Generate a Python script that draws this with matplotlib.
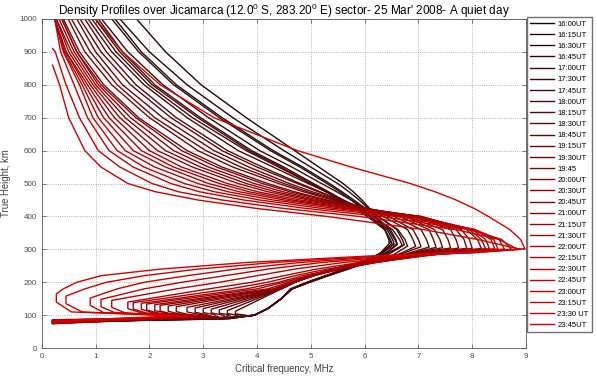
import numpy as np
import matplotlib
matplotlib.use('Agg')
import matplotlib.pyplot as plt

plt.rcParams['font.family'] = ['Liberation Sans', 'DejaVu Sans']
plt.rcParams['mathtext.fontset'] = 'custom'
plt.rcParams['mathtext.rm'] = 'Liberation Sans'

times = ['16:00UT', '16:15UT', '16:30UT', '16:45UT', '17:00UT', '17:30UT', '17:45UT',
         '18:00UT', '18:15UT', '18:30UT', '18:45UT', '19:15UT', '19:30UT', '19:45',
         '20:00UT', '20:30UT', '20:45UT', '21:00UT', '21:15UT', '21:30UT', '22:00UT',
         '22:15UT', '22:30UT', '22:45UT', '23:00UT', '23:15UT', '23:30 UT', '23:45UT']

# peak of each profile (MHz, km)
fof2 = [6.46, 6.55, 6.61, 6.5, 6.74, 6.6, 6.52, 6.7, 6.8, 6.95, 7.05, 7.2, 7.33, 7.45,
        7.6, 7.75, 7.9, 8.0, 8.17, 8.25, 8.32, 8.42, 8.48, 8.6, 8.73, 8.85, 8.91, 8.98]
hmf2 = [318, 316, 315, 317, 314, 316, 313, 312, 310, 309, 308, 307, 306, 305,
        304, 304, 303, 303, 303, 302, 302, 302, 301, 301, 300, 300, 300, 302]

# topside: frequency at these heights (None = above the start of the profile)
top_h = [1000, 900, 800, 700, 600, 550, 500, 475, 450, 425, 400, 360, 330]
top_f = [
    [1.76, 2.3, 2.96, 3.8, 4.7, 5.15, 5.6, 5.79, 5.95, 6.09, 6.2, 6.38, 6.45],
    [1.45, 2.0, 2.7, 3.55, 4.5, 5.0, 5.5, 5.71, 5.9, 6.06, 6.2, 6.42, 6.52],
    [1.36, 1.85, 2.5, 3.35, 4.3, 4.85, 5.35, 5.58, 5.8, 6.01, 6.2, 6.48, 6.58],
    [1.30, 1.8, 2.45, 3.3, 4.25, 4.8, 5.3, 5.54, 5.75, 5.94, 6.1, 6.38, 6.47],
    [1.11, 1.6, 2.25, 3.1, 4.05, 4.65, 5.2, 5.48, 5.75, 6.0, 6.25, 6.6, 6.7],
    [1.05, 1.5, 2.1, 2.95, 3.9, 4.5, 5.05, 5.33, 5.6, 5.86, 6.1, 6.45, 6.56],
    [0.99, 1.45, 2.05, 2.9, 3.85, 4.45, 5.0, 5.28, 5.55, 5.81, 6.05, 6.37, 6.48],
    [0.93, 1.38, 1.98, 2.8, 3.8, 4.4, 5.0, 5.31, 5.6, 5.88, 6.15, 6.52, 6.65],
    [0.86, 1.3, 1.9, 2.7, 3.65, 4.3, 4.95, 5.28, 5.6, 5.93, 6.25, 6.62, 6.75],
    [0.80, 1.2, 1.75, 2.5, 3.45, 4.1, 4.8, 5.17, 5.55, 5.94, 6.35, 6.8, 6.9],
    [0.71, 1.1, 1.65, 2.4, 3.35, 4.0, 4.75, 5.14, 5.55, 5.99, 6.45, 6.9, 7.0],
    [0.65, 1.0, 1.5, 2.25, 3.2, 3.85, 4.6, 5.03, 5.5, 6.01, 6.55, 7.05, 7.15],
    [0.55, 0.9, 1.4, 2.1, 3.05, 3.7, 4.5, 4.94, 5.45, 6.02, 6.65, 7.2, 7.28],
    [0.49, 0.8, 1.3, 2.0, 2.9, 3.55, 4.4, 4.86, 5.4, 6.03, 6.75, 7.3, 7.4],
    [0.40, 0.7, 1.15, 1.8, 2.7, 3.35, 4.2, 4.70, 5.3, 6.0, 6.8, 7.45, 7.55],
    [0.37, 0.65, 1.1, 1.75, 2.6, 3.25, 4.1, 4.61, 5.25, 6.01, 6.9, 7.6, 7.7],
    [0.37, 0.65, 1.05, 1.65, 2.45, 3.1, 3.95, 4.48, 5.15, 5.98, 6.95, 7.7, 7.85],
    [0.32, 0.6, 1.0, 1.55, 2.3, 2.95, 3.8, 4.34, 5.05, 5.94, 7.0, 7.8, 7.95],
    [0.27, 0.55, 0.95, 1.45, 2.15, 2.8, 3.65, 4.2, 4.95, 5.9, 7.05, 7.9, 8.1],
    [0.27, 0.5, 0.9, 1.35, 2.0, 2.6, 3.45, 4.01, 4.8, 5.81, 7.05, 7.95, 8.17],
    [0.24, 0.45, 0.85, 1.25, 1.85, 2.45, 3.3, 3.85, 4.65, 5.7, 7.0, 8.0, 8.25],
    [0.24, 0.45, 0.8, 1.15, 1.7, 2.3, 3.1, 3.67, 4.5, 5.59, 6.95, 8.05, 8.35],
    [0.24, 0.42, 0.75, 1.05, 1.55, 2.1, 2.9, 3.46, 4.3, 5.41, 6.8, 8.05, 8.4],
    [0.24, 0.4, 0.7, 0.95, 1.4, 1.9, 2.65, 3.21, 4.05, 5.18, 6.6, 8.05, 8.5],
    [0.24, 0.35, 0.6, 0.85, 1.25, 1.7, 2.4, 2.93, 3.75, 4.88, 6.3, 7.95, 8.55],
    [None, 0.25, 0.45, 0.7, 1.05, 1.45, 2.05, 2.54, 3.35, 4.47, 5.9, 7.7, 8.5],
    [None, None, 0.33, 0.5, 0.8, 1.1, 1.6, 2.11, 2.9, 3.96, 5.3, 7.1, 8.1],
    [1.0, 1.5, 2.2, 3.2, 4.75, 5.75, 6.85, 7.31, 7.7, 8.03, 8.3, 8.7, 8.9],
]
top_start = [1000] * 25 + [910, 860, 1000]

# bottomside: frequency at these heights
bot_h = [290, 280, 260, 240, 220, 200, 180]
bot_f = [
    [6.3, 6.2, 5.95, 5.65, 5.3, 4.95, 4.65],
    [6.35, 6.25, 5.95, 5.65, 5.3, 4.95, 4.65],
    [6.42, 6.3, 6.0, 5.68, 5.32, 4.97, 4.65],
    [6.32, 6.2, 5.93, 5.62, 5.28, 4.93, 4.63],
    [6.5, 6.38, 6.05, 5.7, 5.33, 4.98, 4.66],
    [6.4, 6.28, 5.98, 5.66, 5.3, 4.96, 4.64],
    [6.32, 6.2, 5.92, 5.6, 5.27, 4.93, 4.62],
    [6.45, 6.32, 6.0, 5.65, 5.3, 4.95, 4.64],
    [6.6, 6.5, 5.9, 5.4, 4.95, 4.65, 4.45],
    [6.7, 6.55, 5.95, 5.4, 5.0, 4.65, 4.45],
    [6.75, 6.6, 6.0, 5.45, 5.0, 4.7, 4.45],
    [6.85, 6.65, 6.0, 5.45, 5.0, 4.7, 4.45],
    [6.9, 6.7, 6.05, 5.5, 5.05, 4.7, 4.45],
    [6.95, 6.75, 6.05, 5.5, 5.05, 4.7, 4.45],
    [7.0, 6.7, 6.0, 5.45, 5.0, 4.7, 4.45],
    [7.1, 6.75, 6.05, 5.5, 5.05, 4.7, 4.4],
    [7.2, 6.85, 6.1, 5.5, 5.05, 4.7, 4.35],
    [7.3, 6.9, 6.15, 5.55, 5.05, 4.65, 4.3],
    [7.45, 7.0, 6.2, 5.55, 5.0, 4.6, 4.2],
    [7.5, 7.0, 6.2, 5.5, 4.95, 4.5, 4.0],
    [7.6, 7.1, 6.2, 5.45, 4.85, 4.4, 3.8],
    [7.65, 7.1, 6.1, 5.3, 4.7, 4.2, 3.5],
    [7.7, 7.0, 5.9, 5.1, 4.5, 3.9, 3.1],
    [7.8, 6.9, 5.6, 4.7, 4.0, 3.3, 2.5],
    [7.9, 6.7, 5.2, 4.2, 3.4, 2.6, 1.9],
    [8.0, 6.5, 4.8, 3.6, 2.7, 1.9, 1.4],
    [8.05, 6.3, 4.3, 2.9, 1.9, 1.2, 0.8],
    [7.7, 6.1, 3.8, 2.2, 1.1, 0.65, 0.4],
]

# lower part of the daytime profiles
n_black = 8
black_tail_f = [4.45, 4.2, 3.95]
black_tail_h = [150, 120, 100]

# valley wiggle of the later profiles (18:15UT onwards)
valley_f = [3.6, 3.45, 3.3, 3.15, 3.0, 2.85, 2.7, 2.5, 2.35, 2.2,
            2.1, 1.95, 1.85, 1.7, 1.6, 1.3, 1.1, 0.9, 0.45, 0.27]
valley_top = [112, 114, 116, 118, 120, 122, 124, 126, 128, 130,
              132, 134, 136, 138, 140, 145, 148, 152, 158, 165]
valley_bot = [104, 105, 106, 107, 108, 109, 110, 111, 112, 113,
              114, 116, 118, 119, 120, 124, 126, 130, 135, 140]
knee_f = [3.8, 3.65, 3.5, 3.35, 3.2, 3.05, 2.9, 2.7, 2.55, 2.4,
          2.35, 2.2, 2.1, 1.95, 1.85, 1.55, 1.35, 1.15, 0.75, 0.55]
knee_h = [100, 100, 101, 101, 102, 102, 103, 103, 104, 104,
          105, 105, 106, 106, 107, 107, 108, 108, 110, 110]

# bottom band near 80 km
band_end_f = [3.5, 3.4, 3.45, 3.3, 3.5, 3.4, 3.35, 3.3, 3.6, 3.5, 3.4, 3.45, 3.3, 3.2,
              3.3, 3.1, 3.2, 3.0, 3.1, 2.9, 3.0, 2.8, 2.9, 2.7, 2.8, 2.6, 2.7, 2.5]
band_end_h = [90, 91, 89, 92, 90, 91, 89, 90, 93, 92, 94, 93, 92, 94,
              93, 95, 94, 96, 95, 96, 95, 97, 96, 97, 96, 98, 97, 98]
band_low_h = [80, 81, 79, 82, 80, 81, 79, 80, 77, 83, 75, 84, 78, 82,
              76, 85, 79, 74, 83, 77, 86, 75, 81, 78, 84, 76, 80, 82]

n = len(times)
colors = [(0.12 + 0.72 * t, 0.04 * (1 - t), 0.04 * (1 - t)) for t in np.linspace(0, 1, n)]

fig = plt.figure(figsize=(5.97, 3.78), dpi=100)
ax = fig.add_axes([0.07, 0.079, 0.811, 0.871])

for i in range(n):
    f, h = [], []
    if top_start[i] < 1000:
        f.append(0.2)
        h.append(top_start[i])
    for hh, ff in zip(top_h, top_f[i]):
        if ff is not None:
            f.append(ff)
            h.append(hh)
    f.append(fof2[i])
    h.append(hmf2[i])
    f += bot_f[i]
    h += bot_h
    if i < n_black:
        f += black_tail_f
        h += black_tail_h
    else:
        j = i - n_black
        f += [valley_f[j], valley_f[j], knee_f[j]]
        h += [valley_top[j], valley_bot[j], knee_h[j]]
    f += [band_end_f[i], 0.2]
    h += [band_end_h[i], band_low_h[i]]
    ax.plot(f, h, color=colors[i], lw=1.0, label=times[i])

ax.set_xlim(0, 9)
ax.set_ylim(0, 1000)
ax.set_xticks(range(0, 10))
ax.set_yticks(range(0, 1001, 100))
ax.grid(True, linestyle=':', color='0.6', lw=0.6)
ax.tick_params(direction='in', top=True, right=True, labelsize=5.8, colors='0.3',
               length=3, width=0.5)
for s in ax.spines.values():
    s.set_color('0.35')
    s.set_linewidth(0.6)

ax.set_title("Density Profiles over Jicamarca (12.0$^0$ S, 283.20$^0$ E) sector- 25 Mar' 2008- A quiet day",
             fontsize=8.5, pad=3)
ax.set_xlabel('Critical frequency, MHz', fontsize=6.9, color='0.25', labelpad=3)
ax.set_ylabel('True Height, km', fontsize=6.9, color='0.25', labelpad=6)

ax.legend(loc='upper left', bbox_to_anchor=(1.002, 1.005), fontsize=5.5, handlelength=3.2,
          labelspacing=0.5, fancybox=False, edgecolor='0.3', borderpad=0.4,
          handletextpad=0.4, borderaxespad=0)

fig.savefig('out.png', dpi=100)
